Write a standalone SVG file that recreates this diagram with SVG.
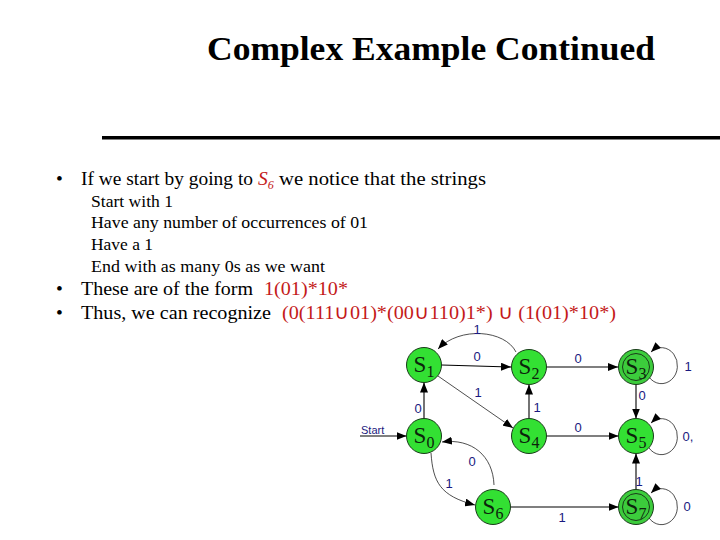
<svg xmlns="http://www.w3.org/2000/svg" width="720" height="540" viewBox="0 0 720 540">
<defs>
<marker id="ah" viewBox="0 0 10 8" refX="10" refY="4" markerWidth="10" markerHeight="8" markerUnits="userSpaceOnUse" orient="auto">
<path d="M0,0 L10,4 L0,8 Z" fill="#000"/>
</marker>
</defs>
<style>
.title{font-family:"Liberation Serif","Times New Roman",serif;font-weight:bold;font-size:34px;fill:#000}
.body{font-family:"Liberation Serif","Times New Roman",serif;font-size:19.5px;fill:#000}
.sub{font-family:"Liberation Serif","Times New Roman",serif;font-size:17px;fill:#000}
.red{fill:#c41a1a}
.node{fill:#33e033;stroke:#1a3a1a;stroke-width:1}
.acc{fill:#3ccc3c;stroke:#1a3a1a;stroke-width:1}
.inner{fill:none;stroke:#1a3a1a;stroke-width:1}
.nl{font-family:"Liberation Serif","Times New Roman",serif;font-size:23px;fill:#0c240c;text-anchor:middle}
.el{font-family:"Liberation Sans",Arial,sans-serif;font-size:13px;fill:#1a1a80;text-anchor:middle}
.e{fill:none;stroke:#000;stroke-width:1.1;marker-end:url(#ah)}
.thin{fill:none;stroke:#222;stroke-width:0.8;marker-end:url(#ah)}
</style>
<rect width="720" height="540" fill="#fff"/>
<text class="title" x="207" y="60" textLength="448" lengthAdjust="spacingAndGlyphs">Complex Example Continued</text>
<rect x="102" y="136" width="618" height="3.5" fill="#000"/>

<text class="body" x="56" y="185">•</text>
<text class="body" x="81" y="185" textLength="172" lengthAdjust="spacingAndGlyphs">If we start by going to</text>
<text class="body red" x="258" y="185" font-style="italic">S<tspan font-size="12" dy="4">6</tspan></text>
<text class="body" x="279" y="185" textLength="207" lengthAdjust="spacingAndGlyphs">we notice that the strings</text>
<text class="sub" x="91" y="207" textLength="82" lengthAdjust="spacingAndGlyphs">Start with 1</text>
<text class="sub" x="91" y="228" textLength="277" lengthAdjust="spacingAndGlyphs">Have any number of occurrences of 01</text>
<text class="sub" x="91" y="250" textLength="62" lengthAdjust="spacingAndGlyphs">Have a 1</text>
<text class="sub" x="91" y="272" textLength="234" lengthAdjust="spacingAndGlyphs">End with as many 0s as we want</text>
<text class="body" x="56" y="295">•</text>
<text class="body" x="81" y="295" textLength="172" lengthAdjust="spacingAndGlyphs">These are of the form</text>
<text class="body red" x="264" y="295" textLength="84" lengthAdjust="spacingAndGlyphs">1(01)*10*</text>
<text class="body" x="56" y="319">•</text>
<text class="body" x="81" y="319" textLength="190" lengthAdjust="spacingAndGlyphs">Thus, we can recognize</text>
<text class="body red" x="282" y="319" textLength="334" lengthAdjust="spacingAndGlyphs">(0(111∪01)*(00∪110)1*) ∪ (1(01)*10*)</text>

<g id="connectors">
<path class="e" d="M441.5,365 L511,367"/>
<path class="e" d="M546.5,367 L618,367"/>
<path class="thin" d="M516,352 C505,330 460,326 438,349"/>
<path class="thin" d="M438,376 L513,428"/>
<path class="e" d="M529,418.5 L529,384.5"/>
<path class="e" d="M424,418.5 L424,382.5"/>
<path class="e" d="M360,436 L406.5,436"/>
<path class="e" d="M546.5,436 L618.5,436"/>
<path class="e" d="M636,384.5 L636,418.5"/>
<path class="e" d="M636,489.5 L636,453.5"/>
<path class="e" d="M510.5,507 L618.5,507"/>
<path class="thin" d="M431,453 C433,482 440,496 475,505"/>
<path class="thin" d="M494,485 C493,456 472,438 442,442"/>
<path class="thin" d="M649,377 A16,18 0 1 0 651,352"/>
<path class="thin" d="M649,448 A16,18 0 1 0 651,423"/>
<path class="thin" d="M649,518 A16,18 0 1 0 651,493"/>
<text class="el" x="477" y="361">0</text>
<text class="el" x="578" y="363">0</text>
<text class="el" x="477" y="334" font-size="11.5">1</text>
<text class="el" x="478" y="397">1</text>
<text class="el" x="537" y="412">1</text>
<text class="el" x="418" y="413">0</text>
<text class="el" x="578" y="432">0</text>
<text class="el" x="642" y="400">0</text>
<text class="el" x="639" y="486" font-size="9">1</text>
<text class="el" x="562" y="522">1</text>
<text class="el" x="449" y="488">1</text>
<text class="el" x="472" y="466">0</text>
<text class="el" x="688" y="371">1</text>
<text class="el" x="688" y="441">0,</text>
<text class="el" x="687" y="511">0</text>
<text x="361" y="434" font-family="Liberation Sans,Arial,sans-serif" font-size="11" fill="#1a1a80">Start</text>
</g>

<g id="S0"><circle class="node" cx="424" cy="436" r="17.5"/><text class="nl" x="424" y="443">S<tspan font-size="16" dy="5">0</tspan></text></g>
<g id="S1"><circle class="node" cx="424" cy="365" r="17.5"/><text class="nl" x="424" y="372">S<tspan font-size="16" dy="5">1</tspan></text></g>
<g id="S2"><circle class="node" cx="529" cy="367" r="17.5"/><text class="nl" x="529" y="374">S<tspan font-size="16" dy="5">2</tspan></text></g>
<g id="S3"><circle class="acc" cx="636" cy="367" r="17.5"/><circle class="inner" cx="636" cy="367" r="13.5"/><text class="nl" x="636" y="374">S<tspan font-size="16" dy="5">3</tspan></text></g>
<g id="S4"><circle class="node" cx="529" cy="436" r="17.5"/><text class="nl" x="529" y="443">S<tspan font-size="16" dy="5">4</tspan></text></g>
<g id="S5"><circle class="node" cx="636" cy="436" r="17.5"/><text class="nl" x="636" y="443">S<tspan font-size="16" dy="5">5</tspan></text></g>
<g id="S6"><circle class="node" cx="493" cy="507" r="17.5"/><text class="nl" x="493" y="514">S<tspan font-size="16" dy="5">6</tspan></text></g>
<g id="S7"><circle class="acc" cx="636" cy="507" r="17.5"/><circle class="inner" cx="636" cy="507" r="13.5"/><text class="nl" x="636" y="514">S<tspan font-size="16" dy="5">7</tspan></text></g>
</svg>
